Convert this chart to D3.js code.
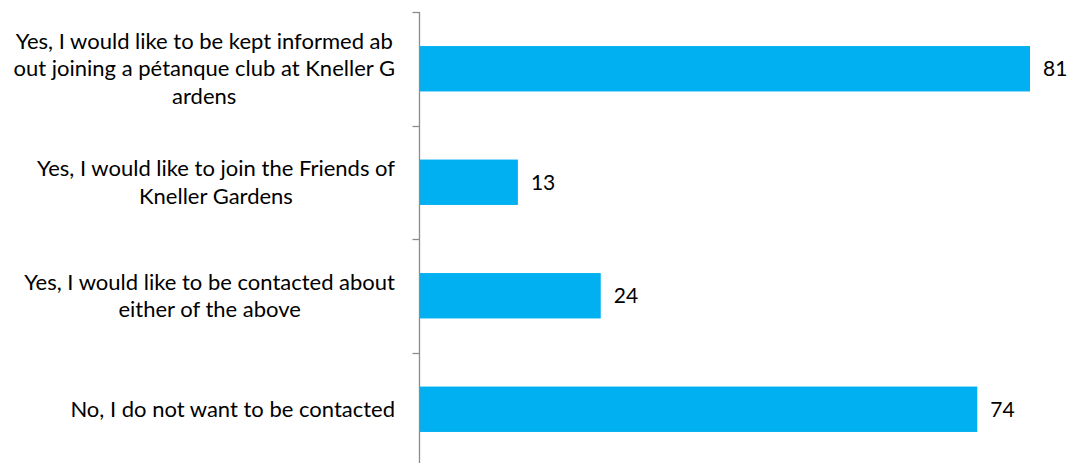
<!DOCTYPE html>
<html>
<head>
<meta charset="utf-8">
<script src="https://cdn.jsdelivr.net/npm/d3@7"></script>
<style>
    body { margin: 0; background: #fff; }
    svg { display: block; }
</style>
</head>
<body>
<div id="chart"></div>
<script>
// labels as Excel wrapped them
var categories = [
    ['Yes, I would like to be kept informed ab', 'out joining a pétanque club at Kneller G', 'ardens'],
    ['Yes, I would like to join the Friends of', 'Kneller Gardens'],
    ['Yes, I would like to be contacted about', 'either of the above'],
    ['No, I do not want to be contacted']
];
var values = [81, 13, 24, 74];

var width = 1072, height = 463;
var axisX = 419.5, labelRight = 395, lineH = 27.7;
var fontSize = 22;

var svg = d3.select('#chart').append('svg')
    .attr('width', width)
    .attr('height', height);

var y = d3.scaleBand()
    .domain(d3.range(values.length))
    .range([12, 466])
    .paddingInner(0.6)
    .paddingOuter(0.3);

var x = d3.scaleLinear()
    .domain([0, 81])
    .range([420, 1030]);

// bars
svg.append('g').selectAll('rect')
    .data(values)
    .enter().append('rect')
    .attr('x', x(0))
    .attr('y', (d, i) => y(i))
    .attr('width', d => x(d) - x(0))
    .attr('height', y.bandwidth())
    .attr('fill', '#00B0F0');

// value labels
svg.append('g').selectAll('text')
    .data(values)
    .enter().append('text')
    .attr('x', d => x(d) + 13)
    .attr('y', (d, i) => y(i) + y.bandwidth() / 2)
    .attr('dy', '0.35em')
    .attr('font-family', 'Lato, sans-serif')
    .attr('font-size', fontSize - 1)
    .attr('fill', '#000')
    .text(d => d);

// category axis: line + ticks at band boundaries
var step = y.step();
var tickYs = d3.range(values.length + 1).map(i => y(0) - y.paddingOuter() * step + i * step);
var ax = svg.append('g').attr('stroke', '#8c8c8c').attr('stroke-width', 1.3);
ax.append('line')
    .attr('x1', axisX).attr('x2', axisX)
    .attr('y1', tickYs[0]).attr('y2', height);
ax.selectAll('.tick')
    .data(tickYs)
    .enter().append('line')
    .attr('x1', axisX - 7).attr('x2', axisX)
    .attr('y1', d => Math.round(d) + 0.5).attr('y2', d => Math.round(d) + 0.5);

// category labels: block right-aligned, lines centred within block
var lab = svg.append('g')
    .attr('font-family', 'Lato, sans-serif')
    .attr('font-size', fontSize)
    .attr('fill', '#000');

categories.forEach(function (lines, i) {
    var cy = y(i) + y.bandwidth() / 2;
    var texts = lab.append('g').selectAll('text')
        .data(lines)
        .enter().append('text')
        .attr('y', (d, j) => cy + (j - (lines.length - 1) / 2) * lineH)
        .attr('dy', '0.35em')
        .attr('text-anchor', 'middle')
        .text(d => d);
    var maxW = d3.max(texts.nodes(), n => n.getComputedTextLength());
    texts.attr('x', labelRight - maxW / 2);
});
</script>
</body>
</html>
